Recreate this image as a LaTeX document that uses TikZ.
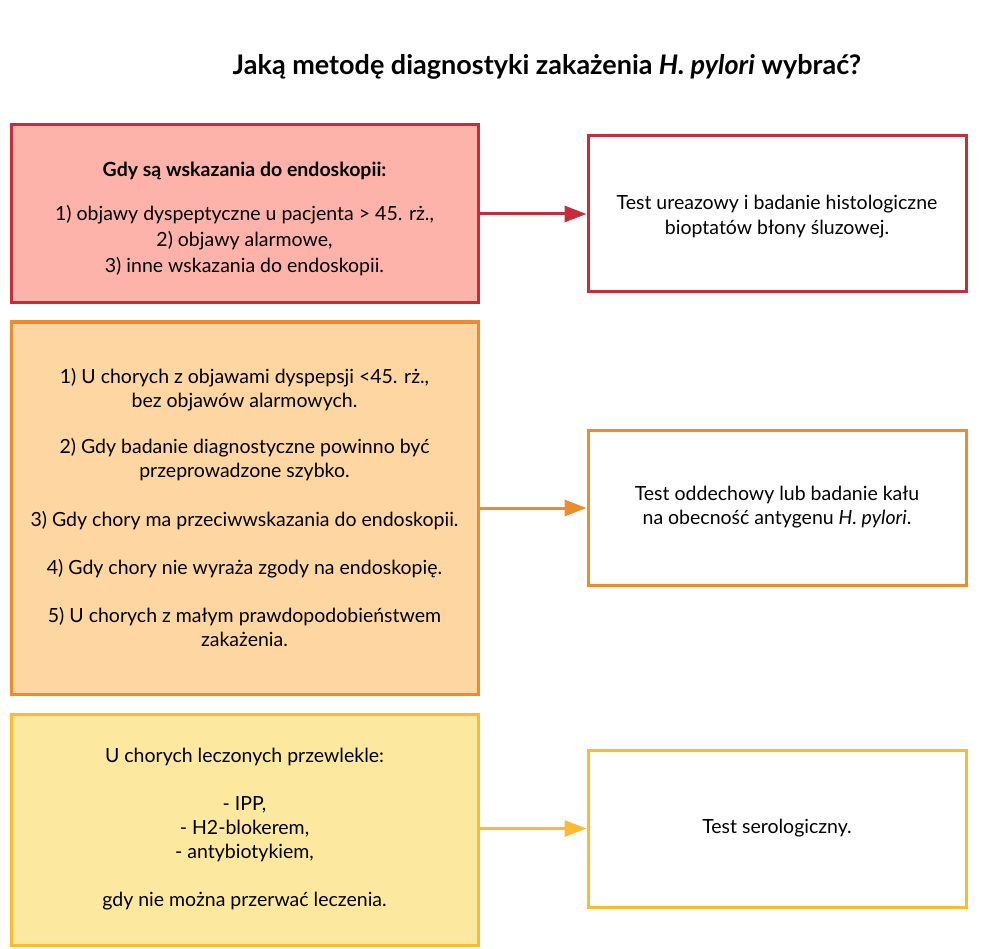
\documentclass[tikz,border=0pt]{standalone}
\usepackage{fontspec}
\setmainfont{Lato}
\usetikzlibrary{arrows.meta}
\definecolor{rbd}{HTML}{C62C3B}
\definecolor{rfl}{HTML}{FDB3AA}
\definecolor{obd}{HTML}{EE8B2C}
\definecolor{ofl}{HTML}{FDD6A1}
\definecolor{ybd}{HTML}{FBBA30}
\definecolor{yfl}{HTML}{FDE8A0}
\tikzset{
  box/.style={draw, line width=3pt, rectangle, align=center, inner sep=0pt,
    font=\fontsize{19.5}{24}\selectfont},
  leftbox/.style={box, minimum width=467pt},
  rightbox/.style={box, fill=white, minimum width=378pt},
  conn/.style={line width=3pt, -{Triangle[length=22pt,width=16pt]}},
}
\begin{document}
\begin{tikzpicture}[x=1pt,y=-1pt]
\useasboundingbox (0,0) rectangle (995,949);
\node (title) at (547,67) {\fontsize{27}{30}\selectfont\bfseries Jaką metodę diagnostyki zakażenia \textit{H. pylori} wybrać?};
% red
\node[leftbox, draw=rbd, fill=rfl, minimum height=178pt, text depth=0pt] (r1) at (244.5,214) {};
\node[align=center, font=\fontsize{19.5}{24}\selectfont, inner sep=0pt] (r1t) at (244.5,219)
 {\textbf{Gdy są wskazania do endoskopii:}\\[20pt]
  1) objawy dyspeptyczne u pacjenta > 45. rż.,\\[2pt]
  2) objawy alarmowe,\\[2pt]
  3) inne wskazania do endoskopii.};
\node[rightbox, draw=rbd, minimum height=156pt] (r2) at (777,214) {};
\node[align=center, font=\fontsize{19.5}{25}\selectfont, inner sep=0pt] (r2t) at (777,217)
 {Test ureazowy i badanie histologiczne\\ bioptatów błony śluzowej.};
\draw[conn, rbd] (r1) -- (r2);
% orange
\node[leftbox, draw=obd, fill=ofl, minimum height=372pt] (o1) at (244.5,508)
 {1) U chorych z objawami dyspepsji <45. rż.,\\
  bez objawów alarmowych.\\[22pt]
  2) Gdy badanie diagnostyczne powinno być\\
  przeprowadzone szybko.\\[25pt]
  3) Gdy chory ma przeciwwskazania do endoskopii.\\[24pt]
  4) Gdy chory nie wyraża zgody na endoskopię.\\[24pt]
  5) U chorych z małym prawdopodobieństwem\\
  zakażenia.};
\node[rightbox, draw=obd, minimum height=155pt] (o2) at (777,507.5)
 {Test oddechowy lub badanie kału\\ na obecność antygenu \textit{H. pylori}.};
\draw[conn, obd] (o1.east |- 0,508) -- (o2.west |- 0,508);
% yellow
\node[leftbox, draw=ybd, fill=yfl, minimum height=231pt] (y1) at (244.5,829.5)
 {U chorych leczonych przewlekle:\\[24pt]
  - IPP,\\
  - H2-blokerem,\\
  - antybiotykiem,\\[24pt]
  gdy nie można przerwać leczenia.};
\node[rightbox, draw=ybd, minimum height=157pt] (y2) at (777,828.5)
 {Test serologiczny.};
\draw[conn, ybd] (y1.east |- y2) -- (y2);
\end{tikzpicture}
\end{document}
